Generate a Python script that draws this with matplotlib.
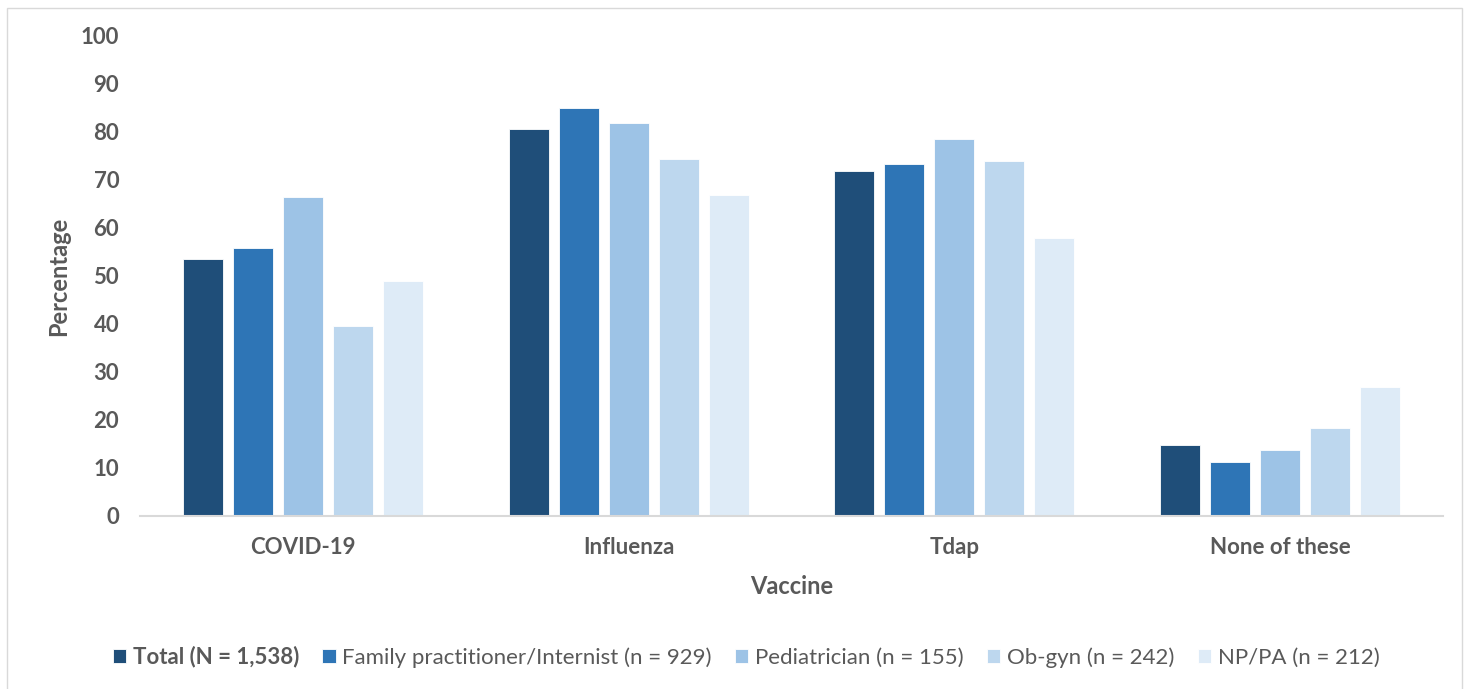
import numpy as np
import matplotlib
matplotlib.use("Agg")
from matplotlib import pyplot as plt
from matplotlib.patches import Rectangle

vaccines = ["COVID-19", "Influenza", "Tdap", "None of these"]
groups = ["Total (N = 1,538)", "Family practitioner/Internist (n = 929)",
          "Pediatrician (n = 155)", "Ob-gyn (n = 242)", "NP/PA (n = 212)"]
total = [53.5, 80.6, 71.8, 14.7]
family = [55.8, 85.1, 73.3, 11.2]
pediatrician = [66.5, 81.8, 78.6, 13.7]
obgyn = [39.6, 74.3, 73.9, 18.3]
nppa = [49.0, 66.9, 57.9, 26.9]
colours = ["#1F4E79", "#2E75B6", "#9DC3E6", "#BDD7EE", "#DEEBF7"]

series = [total, family, pediatrician, obgyn, nppa]
font = "Lato"
grey = "#595959"

fig = plt.figure(figsize=(14.73, 6.89), dpi=100)
# light frame around the chart area
fig.patches.append(Rectangle((7 / 1473, -0.05), 1455 / 1473, 1.05 - 8 / 689,
                             transform=fig.transFigure, fill=False,
                             edgecolor="#D9D9D9", linewidth=1))
ax = fig.add_axes([140 / 1473, 1 - 516 / 689, 1303 / 1473, 480 / 689])

x = np.arange(len(vaccines))
width = 0.123
step = 0.1535
for i, (vals, colour, label) in enumerate(zip(series, colours, groups)):
    ax.bar(x + (i - 2) * step, vals, width, color=colour, label=label,
           edgecolor="white", linewidth=0.6)

ax.set_xlim(-0.5, len(vaccines) - 0.5)
ax.set_ylim(0, 100)
ax.set_yticks(range(0, 101, 10))
ax.set_xticks(x)
ax.set_xticklabels(vaccines)
for spine in ["top", "right", "left"]:
    ax.spines[spine].set_visible(False)
ax.spines["bottom"].set_color("#D9D9D9")
ax.spines["bottom"].set_linewidth(1.5)
ax.tick_params(axis="both", length=0, labelsize=16, labelcolor=grey)
ax.tick_params(axis="y", pad=15)
ax.tick_params(axis="x", pad=15)
for lbl in ax.get_xticklabels() + ax.get_yticklabels():
    lbl.set_fontweight("bold")
    lbl.set_family(font)

ax.set_ylabel("Percentage", fontsize=17, fontweight="bold", color=grey,
              family=font, labelpad=8)
ax.set_xlabel("Vaccine", fontsize=17, fontweight="bold", color=grey,
              family=font, labelpad=12)

leg = ax.legend(loc="center", bbox_to_anchor=(746 / 1473, 1 - 657 / 689),
                bbox_transform=fig.transFigure, ncol=5, frameon=False,
                prop={"family": font, "size": 16}, handlelength=0.6,
                handleheight=0.6, handletextpad=0.3, columnspacing=1.05)
for t in leg.get_texts():
    t.set_color(grey)
leg.get_texts()[0].set_fontweight("bold")

fig.savefig("out.png", dpi=100)
